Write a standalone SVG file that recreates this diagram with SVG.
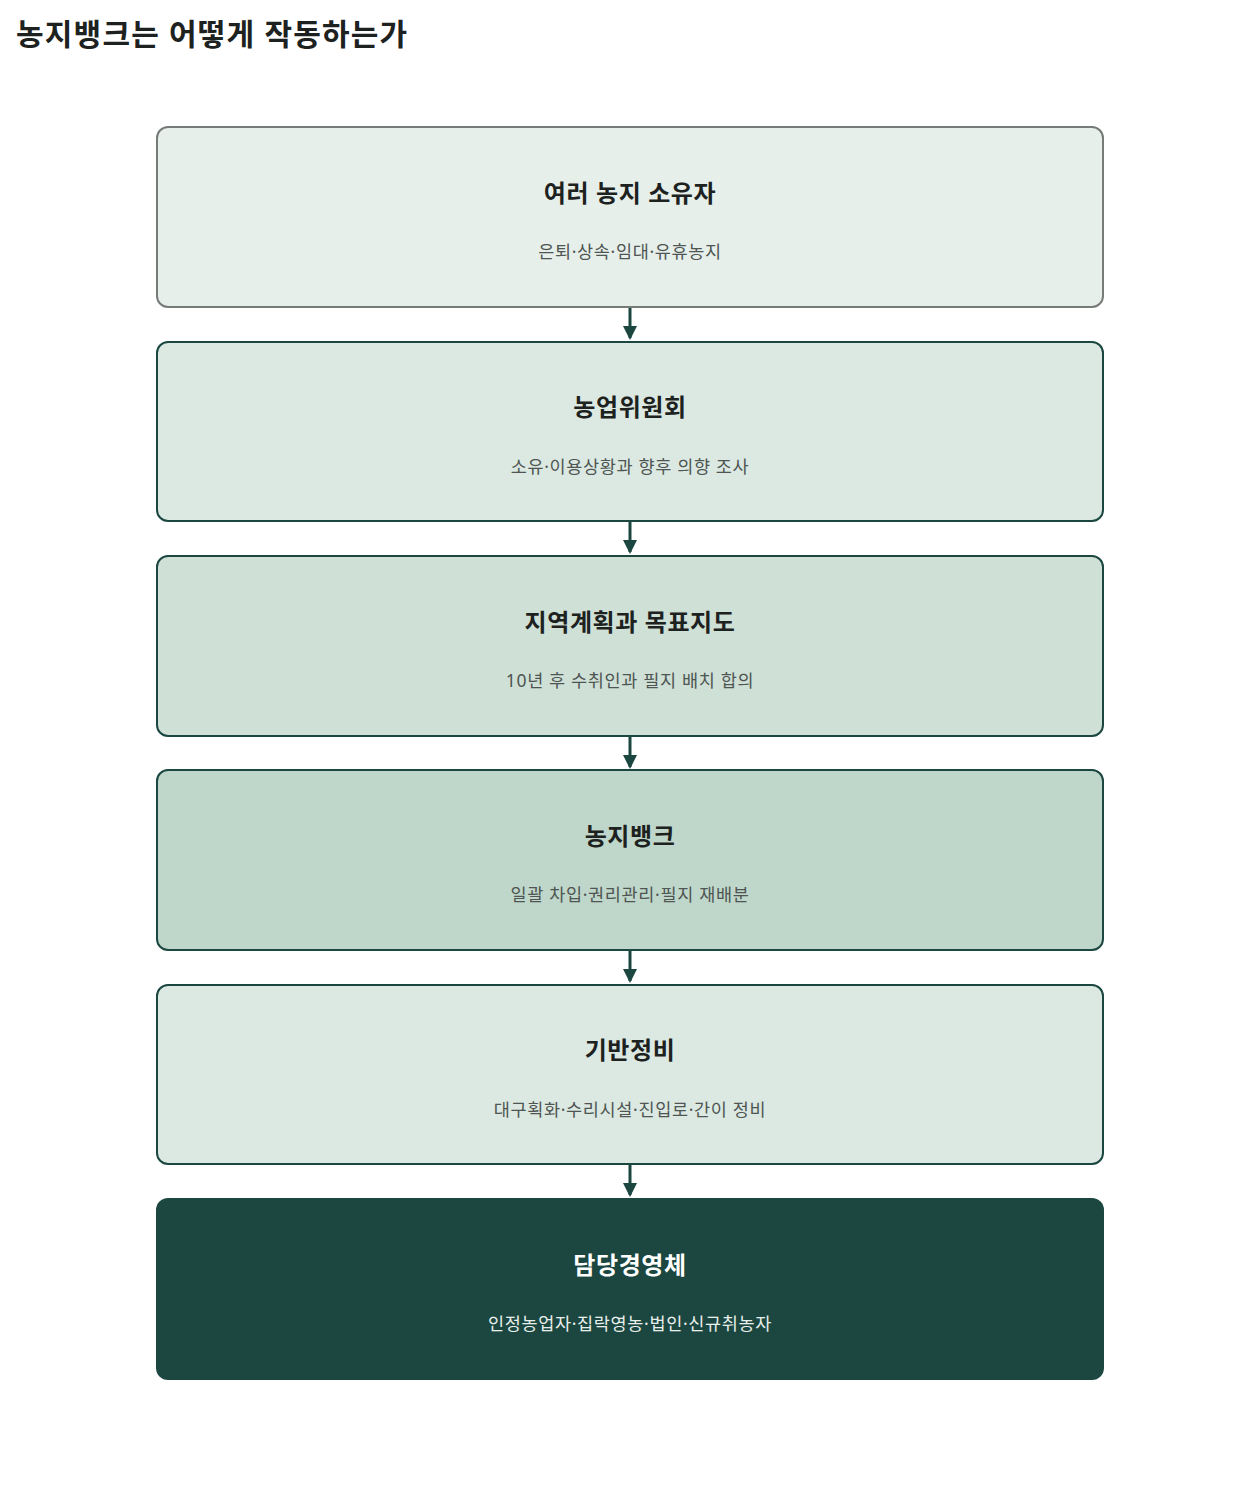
<svg xmlns="http://www.w3.org/2000/svg" width="1260" height="1485" viewBox="0 0 1260 1485">
<style>
.t{font-family:"Noto Sans","Noto Sans CJK KR",sans-serif;text-anchor:middle}
.h{font-size:24px;font-weight:700;fill:#1d2220;letter-spacing:0.6px}
.s{font-size:17.5px;fill:#4e5552;letter-spacing:0.65px}
.box{stroke:#1b4740;stroke-width:2}
.conn{stroke:#1b4740;stroke-width:3;fill:none}
</style>
<defs>
<marker id="ah" markerWidth="14" markerHeight="14" refX="12" refY="7" orient="auto" markerUnits="userSpaceOnUse">
<path d="M0,0 L14,7 L0,14 Z" fill="#1b4740"/>
</marker>
</defs>
<rect width="1260" height="1485" fill="#ffffff"/>
<text x="16" y="45" style="font-family:'Noto Sans','Noto Sans CJK KR',sans-serif;font-size:30px;font-weight:700;fill:#1d2220;letter-spacing:1.2px">농지뱅크는 어떻게 작동하는가</text>
<g id="connectors">
<line class="conn" x1="630" y1="308" x2="630" y2="338" marker-end="url(#ah)"/>
<line class="conn" x1="630" y1="522" x2="630" y2="552" marker-end="url(#ah)"/>
<line class="conn" x1="630" y1="737" x2="630" y2="767" marker-end="url(#ah)"/>
<line class="conn" x1="630" y1="951" x2="630" y2="981" marker-end="url(#ah)"/>
<line class="conn" x1="630" y1="1165" x2="630" y2="1195" marker-end="url(#ah)"/>
</g>
<g id="n1">
<rect x="157" y="127" width="946" height="180" rx="11" fill="#e6efea" stroke="#777b78" stroke-width="2"/>
<text class="t h" x="630" y="202">여러 농지 소유자</text>
<text class="t s" x="630" y="258">은퇴·상속·임대·유휴농지</text>
</g>
<g id="n2">
<rect class="box" x="157" y="342" width="946" height="179" rx="11" fill="#dbe9e2"/>
<text class="t h" x="630" y="416">농업위원회</text>
<text class="t s" x="630" y="473">소유·이용상황과 향후 의향 조사</text>
</g>
<g id="n3">
<rect class="box" x="157" y="556" width="946" height="180" rx="11" fill="#cfe0d6"/>
<text class="t h" x="630" y="631">지역계획과 목표지도</text>
<text class="t s" x="630" y="687">10년 후 수취인과 필지 배치 합의</text>
</g>
<g id="n4">
<rect class="box" x="157" y="770" width="946" height="180" rx="11" fill="#bfd7ca"/>
<text class="t h" x="630" y="845">농지뱅크</text>
<text class="t s" x="630" y="901">일괄 차입·권리관리·필지 재배분</text>
</g>
<g id="n5">
<rect class="box" x="157" y="985" width="946" height="179" rx="11" fill="#dbe9e2"/>
<text class="t h" x="630" y="1059">기반정비</text>
<text class="t s" x="630" y="1116">대구획화·수리시설·진입로·간이 정비</text>
</g>
<g id="n6">
<rect x="156" y="1198" width="948" height="182" rx="12" fill="#1b4740"/>
<text class="t h" x="630" y="1274" style="fill:#ffffff">담당경영체</text>
<text class="t s" x="630" y="1330" style="fill:#e8efec">인정농업자·집락영농·법인·신규취농자</text>
</g>
</svg>
